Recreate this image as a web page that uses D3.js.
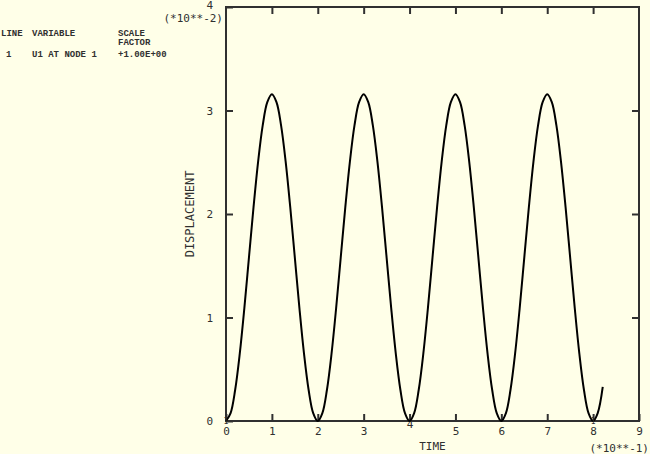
<!DOCTYPE html>
<html><head><meta charset="utf-8">
<script src="https://cdn.jsdelivr.net/npm/d3@7"></script>
<style>html,body{margin:0;padding:0;background:#ffffe8;}svg{display:block;}</style>
</head><body>
<script>
// Data (time in units of 1e-1, displacement in units of 1e-2)
const times = [0,0.1,0.2,0.3,0.4,0.5,0.6,0.7,0.8,0.9,1.0,1.1,1.2,1.3,1.4,1.5,1.6,1.7,1.8,1.9,
  2.0,2.1,2.2,2.3,2.4,2.5,2.6,2.7,2.8,2.9,3.0,3.1,3.2,3.3,3.4,3.5,3.6,3.7,3.8,3.9,
  4.0,4.1,4.2,4.3,4.4,4.5,4.6,4.7,4.8,4.9,5.0,5.1,5.2,5.3,5.4,5.5,5.6,5.7,5.8,5.9,
  6.0,6.1,6.2,6.3,6.4,6.5,6.6,6.7,6.8,6.9,7.0,7.1,7.2,7.3,7.4,7.5,7.6,7.7,7.8,7.9,
  8.0,8.1,8.21];
const displacement = [0,0.077,0.302,0.651,1.091,1.579,2.066,2.506,2.856,3.080,3.157,3.080,2.856,2.506,2.066,1.579,1.091,0.651,0.302,0.077,
  0,0.077,0.302,0.651,1.091,1.579,2.066,2.506,2.856,3.080,3.157,3.080,2.856,2.506,2.066,1.579,1.091,0.651,0.302,0.077,
  0,0.077,0.302,0.651,1.091,1.579,2.066,2.506,2.856,3.080,3.157,3.080,2.856,2.506,2.066,1.579,1.091,0.651,0.302,0.077,
  0,0.077,0.302,0.651,1.091,1.579,2.066,2.506,2.856,3.080,3.157,3.080,2.856,2.506,2.066,1.579,1.091,0.651,0.302,0.077,
  0,0.077,0.33];
const xTicks = [0,1,2,3,4,5,6,7,8,9];
const yTicks = [0,1,2,3,4];
const legendHeader = ["LINE","VARIABLE","SCALE"];
const legendRow = ["1","U1 AT NODE 1","+1.00E+00"];
const curveMarkers = [[0,0],[8,0]];

const W=650,H=454;
const ink="#303030";
const svg=d3.select("body").append("svg").attr("width",W).attr("height",H).style("background","#ffffe8");
const x=d3.scaleLinear().domain([0,9]).range([226,639]);
const y=d3.scaleLinear().domain([0,4]).range([421,7]);
const mono="'Liberation Mono', monospace";
const sans="'DejaVu Sans Mono', monospace";

// legend
const lg=svg.append("g").attr("fill",ink).attr("font-family",mono).attr("font-size",9).attr("font-weight","bold");
const colX=[1,32,118];
legendHeader.forEach((t,i)=>lg.append("text").attr("x",colX[i]).attr("y",36).text(t));
lg.append("text").attr("x",118).attr("y",45).text("FACTOR");
legendRow.forEach((t,i)=>lg.append("text").attr("x",colX[i]+(i===0?5:0)).attr("y",57).text(t));

// frame
svg.append("rect").attr("x",x(0)).attr("y",y(4)).attr("width",x(9)-x(0)).attr("height",y(0)-y(4))
  .attr("fill","none").attr("stroke",ink).attr("stroke-width",2);

// axes with inward ticks
const tl=7;
svg.append("g").attr("transform",`translate(0,${y(0)})`)
  .call(d3.axisBottom(x).tickValues(xTicks).tickSize(-tl).tickPadding(6).tickFormat(d3.format("d")))
  .call(g=>{g.select(".domain").remove();g.selectAll("line").attr("stroke",ink).attr("stroke-width",2);
    g.selectAll("text").attr("fill",ink).attr("font-family",sans).attr("font-size",11);});
svg.append("g").attr("transform",`translate(0,${y(4)})`)
  .call(d3.axisTop(x).tickValues(xTicks.slice(1,-1)).tickSize(-tl).tickFormat(""))
  .call(g=>{g.select(".domain").remove();g.selectAll("line").attr("stroke",ink).attr("stroke-width",2);});
svg.append("g").attr("transform",`translate(${x(0)},0)`)
  .call(d3.axisLeft(y).tickValues(yTicks).tickSize(-tl).tickPadding(13).tickFormat(d3.format("d")))
  .call(g=>{g.select(".domain").remove();g.selectAll("line").attr("stroke",ink).attr("stroke-width",2);
    g.selectAll("text").attr("fill",ink).attr("font-family",sans).attr("font-size",11);});
svg.append("g").attr("transform",`translate(${x(9)},0)`)
  .call(d3.axisRight(y).tickValues(yTicks.slice(1,-1)).tickSize(-tl).tickFormat(""))
  .call(g=>{g.select(".domain").remove();g.selectAll("line").attr("stroke",ink).attr("stroke-width",2);});
svg.selectAll("text").filter(function(){return this.textContent==="4";}).attr("dy","0.1em");

// scale factor labels and titles
const tx=svg.append("g").attr("fill",ink).attr("font-family",sans).attr("font-size",11);
tx.append("text").attr("x",223).attr("y",22).attr("text-anchor","end").text("(*10**-2)");
tx.append("text").attr("x",649).attr("y",452).attr("text-anchor","end").text("(*10**-1)");
tx.append("text").attr("x",x(4.5)).attr("y",450).attr("text-anchor","middle").text("TIME");
tx.append("text").attr("transform",`translate(194,${y(2)}) rotate(-90)`).attr("text-anchor","middle")
  .attr("font-size",12).text("DISPLACEMENT");

// curve
const pts=times.map((t,i)=>[t,displacement[i]]);
svg.append("path").datum(pts).attr("fill","none").attr("stroke","#000").attr("stroke-width",2)
  .attr("d",d3.line().x(d=>x(d[0])).y(d=>y(d[1])).curve(d3.curveCatmullRom));
svg.append("g").selectAll("text").data(curveMarkers).join("text")
  .attr("x",d=>x(d[0])).attr("y",d=>y(d[1])+3).attr("text-anchor","middle")
  .attr("fill",ink).attr("font-family",sans).attr("font-size",8).text("1");
</script>
</body></html>
